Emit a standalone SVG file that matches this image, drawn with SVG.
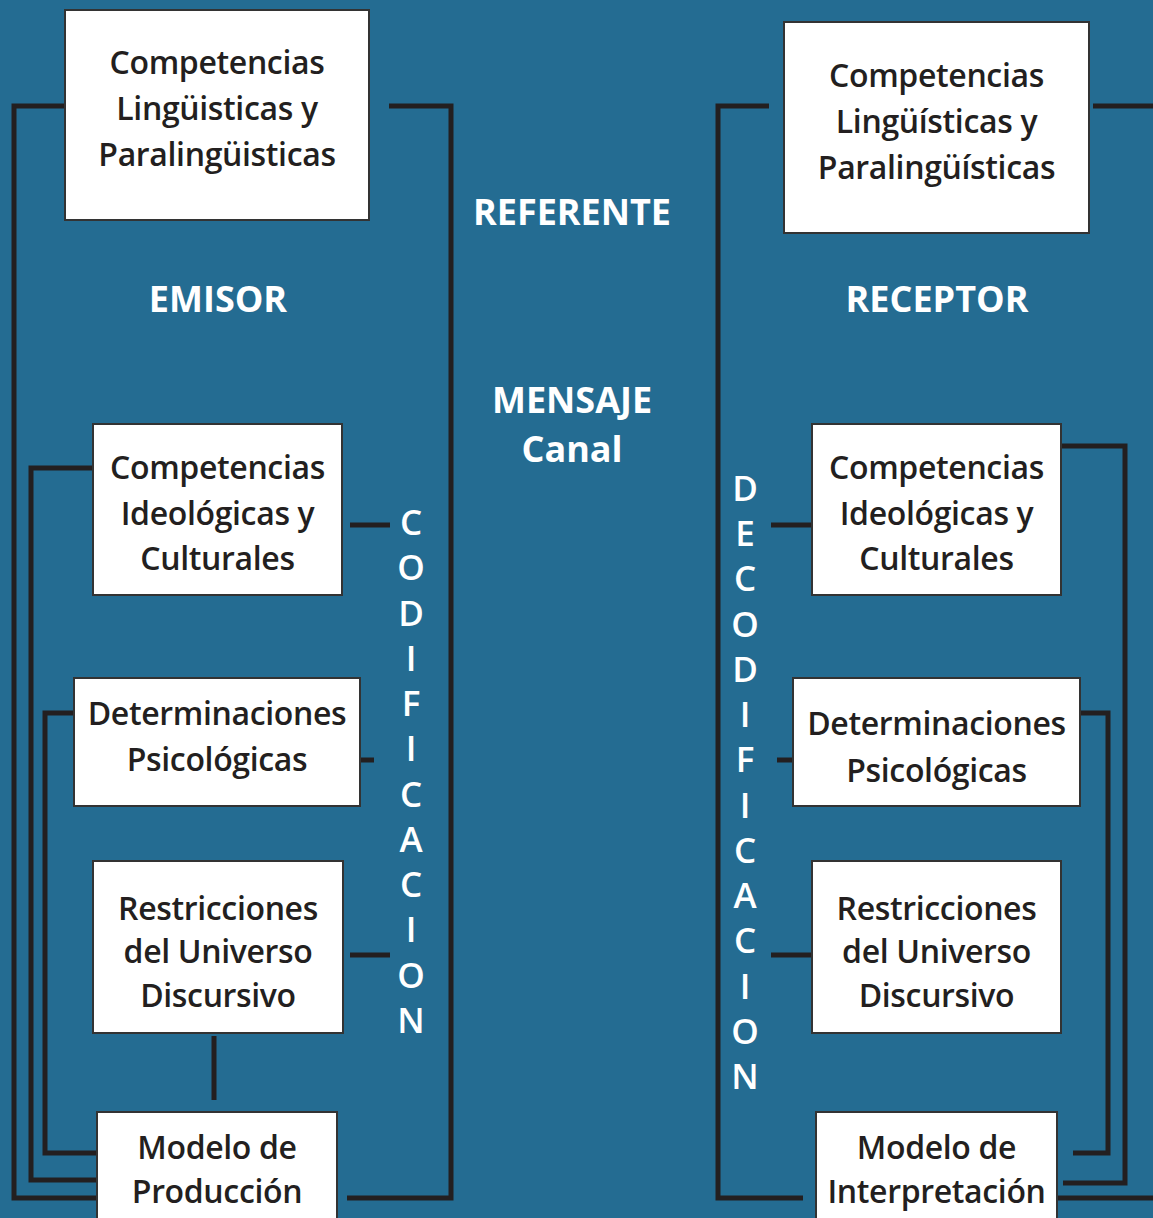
<svg xmlns="http://www.w3.org/2000/svg" width="1153" height="1218" viewBox="0 0 1153 1218">
<style>
.bg{fill:#246c92}
.box rect{fill:#ffffff;stroke:#333333;stroke-width:2}
.box text{font-family:"Open Sans","Noto Sans",sans-serif;font-weight:600;font-size:32px;letter-spacing:-0.35px;fill:#231f20;text-anchor:middle}
.conn path{fill:none;stroke:#231f20;stroke-width:5;stroke-linejoin:miter;stroke-linecap:butt}
.title{font-family:"Open Sans","Noto Sans",sans-serif;font-weight:700;font-size:36px;fill:#ffffff;text-anchor:middle}
.vert{font-family:"Open Sans","Noto Sans",sans-serif;font-weight:600;font-size:35px;fill:#ffffff;text-anchor:middle}
</style>
<rect class="bg" x="0" y="0" width="1153" height="1218"/>
<g id="connectors" class="conn">
<path d="M65,106 H14 V1198 H97"/>
<path d="M389,106 H451 V1198 H347"/>
<path d="M93,468 H31 V1180 H97"/>
<path d="M74,713 H45 V1153 H97"/>
<path d="M350,525 H390"/>
<path d="M361,760 H374"/>
<path d="M350,955 H390"/>
<path d="M214,1036 V1100"/>
<path d="M769,106 H718 V1198 H803"/>
<path d="M1093,106 H1153"/>
<path d="M1057,1198 H1153"/>
<path d="M1061,446 H1125 V1183 H1063"/>
<path d="M1080,713 H1108 V1153 H1073"/>
<path d="M771,525 H812"/>
<path d="M777,760 H793"/>
<path d="M771,955 H812"/>
</g>
<g id="emisor-linguisticas" class="box">
<rect x="65" y="10" width="304" height="210"/>
<text x="217" y="74">Competencias</text>
<text x="217" y="120">Lingüisticas y</text>
<text x="217" y="166">Paralingüisticas</text>
</g>
<g id="emisor-ideologicas" class="box">
<rect x="93" y="424" width="249" height="171"/>
<text x="217.5" y="479">Competencias</text>
<text x="217.5" y="525">Ideológicas y</text>
<text x="217.5" y="570">Culturales</text>
</g>
<g id="emisor-psicologicas" class="box">
<rect x="74" y="678" width="286" height="128"/>
<text x="217" y="725">Determinaciones</text>
<text x="217" y="771">Psicológicas</text>
</g>
<g id="emisor-restricciones" class="box">
<rect x="93" y="861" width="250" height="172"/>
<text x="218" y="920">Restricciones</text>
<text x="218" y="963">del Universo</text>
<text x="218" y="1007">Discursivo</text>
</g>
<g id="emisor-modelo" class="box">
<rect x="97" y="1112" width="240" height="130"/>
<text x="217" y="1159">Modelo de</text>
<text x="217" y="1203">Producción</text>
</g>
<g id="receptor-linguisticas" class="box">
<rect x="784" y="22" width="305" height="211"/>
<text x="936.5" y="87">Competencias</text>
<text x="936.5" y="133">Lingüísticas y</text>
<text x="936.5" y="179">Paralingüísticas</text>
</g>
<g id="receptor-ideologicas" class="box">
<rect x="812" y="424" width="249" height="171"/>
<text x="936.5" y="479">Competencias</text>
<text x="936.5" y="525">Ideológicas y</text>
<text x="936.5" y="570">Culturales</text>
</g>
<g id="receptor-psicologicas" class="box">
<rect x="793" y="678" width="287" height="128"/>
<text x="936.5" y="735">Determinaciones</text>
<text x="936.5" y="782">Psicológicas</text>
</g>
<g id="receptor-restricciones" class="box">
<rect x="812" y="861" width="249" height="172"/>
<text x="936.5" y="920">Restricciones</text>
<text x="936.5" y="963">del Universo</text>
<text x="936.5" y="1007">Discursivo</text>
</g>
<g id="receptor-modelo" class="box">
<rect x="816" y="1112" width="241" height="130"/>
<text x="936.5" y="1159">Modelo de</text>
<text x="936.5" y="1203">Interpretación</text>
</g>
<g id="labels">
<text class="title" x="572" y="225">REFERENTE</text>
<text class="title" x="218" y="312">EMISOR</text>
<text class="title" x="937" y="312">RECEPTOR</text>
<text class="title" x="572" y="413">MENSAJE</text>
<text class="title" x="572" y="462">Canal</text>
</g>
<g id="codificacion" class="vert">
<text x="411" y="535">C</text>
<text x="411" y="580">O</text>
<text x="411" y="626">D</text>
<text x="411" y="671">I</text>
<text x="411" y="716">F</text>
<text x="411" y="761">I</text>
<text x="411" y="807">C</text>
<text x="411" y="852">A</text>
<text x="411" y="897">C</text>
<text x="411" y="942">I</text>
<text x="411" y="988">O</text>
<text x="411" y="1033">N</text>
</g>
<g id="decodificacion" class="vert">
<text x="745" y="501">D</text>
<text x="745" y="546">E</text>
<text x="745" y="591">C</text>
<text x="745" y="637">O</text>
<text x="745" y="682">D</text>
<text x="745" y="727">I</text>
<text x="745" y="772">F</text>
<text x="745" y="818">I</text>
<text x="745" y="863">C</text>
<text x="745" y="908">A</text>
<text x="745" y="953">C</text>
<text x="745" y="999">I</text>
<text x="745" y="1044">O</text>
<text x="745" y="1089">N</text>
</g>
</svg>
